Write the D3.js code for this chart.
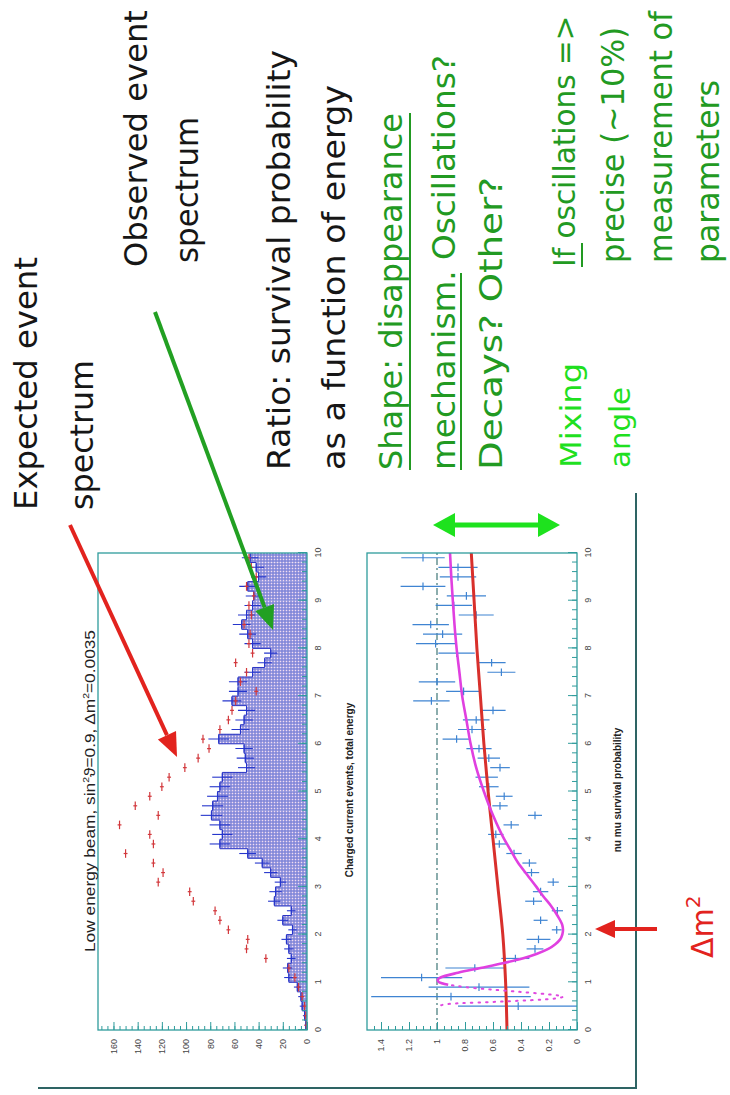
<!DOCTYPE html>
<html>
<head>
<meta charset="utf-8">
<script src="https://cdn.jsdelivr.net/npm/d3@7"></script>
<style>
  body { margin: 0; background: #fff; }
  svg { display: block; }
</style>
</head>
<body>
<svg id="slide"></svg>
<script>
// the slide is laid out landscape (1095 x 730) and turned a quarter turn, like the scan

// ---- data ----
const energyTicks = [0, 1, 2, 3, 4, 5, 6, 7, 8, 9, 10]
const energyLabels = ["0", "1", "2", "3", "4", "5", "6", "7", "8", "9", "10"]
const countTicks = [0, 20, 40, 60, 80, 100, 120, 140, 160]
const countLabels = ["0", "20", "40", "60", "80", "100", "120", "140", "160"]
const probTicks = [0, 0.2, 0.4, 0.6, 0.8, 1, 1.2, 1.4]
const probLabels = ["0", "0.2", "0.4", "0.6", "0.8", "1", "1.2", "1.4"]

const binWidth = 0.2
// observed events per 0.2 GeV bin (0 .. 10 GeV)
const observed = [1, 2, 4, 5, 8, 15, 16, 13, 15, 17,
                  12, 20, 13, 27, 26, 22, 30, 37, 49, 72,
                  70, 72, 79, 78, 74, 72, 70, 50, 51, 52,
                  73, 55, 52, 50, 62, 57, 57, 45, 35, 30,
                  45, 49, 54, 50, 45, 44, 49, 40, 42, 47]
// expected (no oscillation) per bin
const expected = [0.5, 1, 2, 4, 7, 10, 15, 34, 50, 49,
                  65, 72, 76, 94, 97, 123, 119, 127, 150, 127,
                  130, 155, 123, 142, 130, 120, 114, 101, 90, 81,
                  86, 72, 65, 62, 59, 42, 55, 50, 59, 45,
                  48, 47, 52, 46, 48, 44, 50, 42, 46, 48]

// ratio points (survival probability)
const ratioE = [0.5, 0.7, 0.9, 1.1, 1.3, 1.5, 1.7, 1.9, 2.1, 2.3, 2.5, 2.7, 2.9, 3.1, 3.3, 3.5,
                3.7, 3.9, 4.1, 4.3, 4.5, 4.7, 4.9, 5.1, 5.3, 5.5, 5.7, 5.9, 6.1, 6.3, 6.5, 6.7,
                6.9, 7.1, 7.3, 7.5, 7.7, 7.9, 8.1, 8.3, 8.5, 8.7, 8.9, 9.1, 9.3, 9.5, 9.7, 9.9]
const ratioP = [0.42, 0.9, 0.70, 1.11, 0.73, 0.44, 0.30, 0.275, 0.145, 0.26, 0.14, 0.31, 0.26, 0.17, 0.325, 0.34,
                0.45, 0.555, 0.58, 0.47, 0.30, 0.55, 0.52, 0.63, 0.645, 0.55, 0.63, 0.70, 0.86, 0.75, 0.72, 0.60,
                1.04, 0.81, 1.0, 0.54, 0.61, 0.86, 1.01, 0.96, 1.045, 0.72, 0.88, 0.79, 1.10, 0.85, 0.85, 1.10]
const ratioErr = [0.43, 0.57, 0.36, 0.29, 0.21, 0.1, 0.06, 0.085, 0.035, 0.05, 0.04, 0.06, 0.055, 0.04, 0.055, 0.05,
                  0.055, 0.05, 0.055, 0.055, 0.05, 0.055, 0.06, 0.07, 0.08, 0.07, 0.08, 0.09, 0.1, 0.1, 0.095, 0.09,
                  0.13, 0.125, 0.13, 0.1, 0.1, 0.13, 0.14, 0.14, 0.13, 0.125, 0.13, 0.14, 0.16, 0.13, 0.14, 0.155]

// red (flat-ish) curve
const flatE = [0, 1, 2, 3, 4, 5, 6, 7, 8, 9, 10]
const flatP = [0.50, 0.51, 0.53, 0.565, 0.60, 0.635, 0.665, 0.69, 0.715, 0.735, 0.755]

// magenta oscillation fit, solid part
const oscE = [0.95, 1.0, 1.05, 1.1, 1.2, 1.3, 1.4, 1.5, 1.6, 1.7, 1.8, 1.9, 2.0, 2.1, 2.2, 2.4, 2.6, 2.8,
              3.0, 3.25, 3.5, 3.75, 4.0, 4.5, 5.0, 5.5, 6.0, 6.5, 7.0, 7.5, 8.0, 8.5, 9.0, 9.5, 10]
const oscP = [0.92, 0.985, 0.995, 0.975, 0.85, 0.69, 0.53, 0.39, 0.285, 0.205, 0.155, 0.12, 0.105, 0.10, 0.105, 0.14, 0.185, 0.24,
              0.29, 0.355, 0.42, 0.47, 0.52, 0.60, 0.665, 0.72, 0.76, 0.79, 0.82, 0.84, 0.86, 0.875, 0.887, 0.898, 0.907]
// magenta dotted part (fast oscillation at low energy)
const fastE = [0.52, 0.55, 0.6, 0.65, 0.7, 0.75, 0.8, 0.85, 0.9, 0.95]
const fastP = [0.97, 0.90, 0.51, 0.19, 0.10, 0.21, 0.41, 0.62, 0.80, 0.92]

// ---- setup ----
const W = 730, H = 1095
const svg = d3.select("#slide").attr("width", W).attr("height", H)
const defs = svg.append("defs")

const hatch = defs.append("pattern")
    .attr("id", "hatch")
    .attr("patternUnits", "userSpaceOnUse")
    .attr("width", 3).attr("height", 3)
hatch.append("rect").attr("width", 3).attr("height", 3).attr("fill", "#7a82d8")
hatch.append("rect").attr("x", 0.7).attr("y", 0.7).attr("width", 1.6).attr("height", 1.6).attr("fill", "#f2dcf2")

const g = svg.append("g").attr("transform", `translate(0,${H}) rotate(-90)`)

const xE = d3.scaleLinear([0, 10], [65, 542])
const yN = d3.scaleLinear([0, 172.8], [307, 98])
const yP = d3.scaleLinear([0, 1.5], [577, 367])

const teal = "#2f9c9c"
const labelFont = "'Liberation Sans', Arial, sans-serif"
const slideFont = "'DejaVu Sans', sans-serif"

defs.append("clipPath").attr("id", "clip1")
  .append("rect").attr("x", xE(0)).attr("y", yN.range()[1]).attr("width", xE(10) - xE(0)).attr("height", yN.range()[0] - yN.range()[1])
defs.append("clipPath").attr("id", "clip2")
  .append("rect").attr("x", xE(0)).attr("y", yP.range()[1]).attr("width", xE(10) - xE(0)).attr("height", yP.range()[0] - yP.range()[1])

function tidy(ax) {
  ax.select(".domain").remove()
  ax.attr("font-family", labelFont).attr("font-size", 9)
  ax.selectAll(".tick line").attr("stroke", teal)
  ax.selectAll(".tick text").attr("fill", "#444")
}

function frame(yScale, majors, labels, step) {
  const [bottom, top] = yScale.range()
  const f = g.append("g")
  const lo = yScale.domain()[0], hi = yScale.domain()[1]
  f.append("g").attr("transform", `translate(0,${bottom})`)
      .call(d3.axisBottom(xE).tickValues(d3.range(0, 10.001, 0.2)).tickSize(-5).tickFormat(""))
      .call(tidy)
  f.append("g").attr("transform", `translate(0,${bottom})`)
      .call(d3.axisBottom(xE).tickValues(energyTicks).tickSize(-9).tickPadding(8).tickFormat((d, i) => energyLabels[i]))
      .call(tidy)
  f.append("g").attr("transform", `translate(${xE(0)},0)`)
      .call(d3.axisLeft(yScale).tickValues(d3.range(lo, hi, step)).tickSize(-4).tickFormat(""))
      .call(tidy)
  f.append("g").attr("transform", `translate(${xE(0)},0)`)
      .call(d3.axisLeft(yScale).tickValues(majors).tickSize(-8).tickPadding(9).tickFormat((d, i) => labels[i]))
      .call(tidy)
  f.append("rect")
      .attr("x", xE(0)).attr("y", top)
      .attr("width", xE(10) - xE(0)).attr("height", bottom - top)
      .attr("fill", "none").attr("stroke", teal).attr("stroke-width", 1.3)
}

// ---- top chart: event spectra ----
const hist = g.append("g").attr("clip-path", "url(#clip1)")
hist.selectAll("rect.bin")
  .data(observed)
  .join("rect")
    .attr("class", "bin")
    .attr("x", (d, i) => xE(i * binWidth))
    .attr("width", xE(binWidth) - xE(0) + 0.3)
    .attr("y", d => yN(d))
    .attr("height", d => yN(0) - yN(d))
    .attr("fill", "url(#hatch)")

const stepLine = d3.line().x(d => xE(d[0])).y(d => yN(d[1])).curve(d3.curveStepAfter)
hist.append("path")
    .attr("d", stepLine([[0, 0]].concat(observed.map((d, i) => [i * binWidth, d]), [[10, observed[observed.length - 1]]])))
    .attr("fill", "none")
    .attr("stroke", "#2a34c4")
    .attr("stroke-width", 1)

// observed error crosses
const obsErr = hist.append("g").attr("stroke", "#2636cc").attr("stroke-width", 1.1)
observed.forEach((n, i) => {
  const c = (i + 0.5) * binWidth, e = Math.sqrt(n)
  obsErr.append("line").attr("x1", xE(c)).attr("x2", xE(c)).attr("y1", yN(n - e)).attr("y2", yN(n + e))
  obsErr.append("line").attr("x1", xE(c - 0.08)).attr("x2", xE(c + 0.08)).attr("y1", yN(n)).attr("y2", yN(n))
})

// expected points
const expMarks = hist.append("g").attr("stroke", "#d2383c").attr("stroke-width", 1.2)
expected.forEach((n, i) => {
  const c = (i + 0.5) * binWidth
  expMarks.append("line").attr("x1", xE(c - 0.09)).attr("x2", xE(c + 0.09)).attr("y1", yN(n)).attr("y2", yN(n))
  expMarks.append("line").attr("x1", xE(c)).attr("x2", xE(c)).attr("y1", yN(n - 1.6)).attr("y2", yN(n + 1.6))
})

frame(yN, countTicks, countLabels, 5)

const title = g.append("text")
    .attr("x", 143).attr("y", 95)
    .attr("font-family", labelFont).attr("font-size", 15).attr("fill", "#222")
    .attr("textLength", 322).attr("lengthAdjust", "spacingAndGlyphs")
title.append("tspan").text("Low energy beam, sin")
title.append("tspan").attr("font-size", 9).attr("dy", -6).text("2")
title.append("tspan").attr("dy", 6).text("\u03d1=0.9, \u0394m")
title.append("tspan").attr("font-size", 9).attr("dy", -6).text("2")
title.append("tspan").attr("dy", 6).text("=0.0035")

g.append("text")
    .attr("x", 305).attr("y", 353).attr("text-anchor", "middle")
    .attr("font-family", labelFont).attr("font-size", 10).attr("font-weight", "bold").attr("fill", "#222")
    .text("Charged current events, total energy")

// ---- bottom chart: survival probability ----
const ratio = g.append("g").attr("clip-path", "url(#clip2)")

ratio.append("line")
    .attr("x1", xE(0)).attr("x2", xE(10)).attr("y1", yP(1)).attr("y2", yP(1))
    .attr("stroke", "#2c6a6a").attr("stroke-width", 1.1).attr("stroke-dasharray", "7,3,2,3")

const crosses = ratio.append("g").attr("stroke", "#3f84d2").attr("stroke-width", 1.2)
ratioE.forEach((e, i) => {
  const p = ratioP[i], s = ratioErr[i]
  crosses.append("line").attr("x1", xE(e)).attr("x2", xE(e)).attr("y1", yP(p - s)).attr("y2", yP(p + s))
  crosses.append("line").attr("x1", xE(e - 0.08)).attr("x2", xE(e + 0.08)).attr("y1", yP(p)).attr("y2", yP(p))
})

const curve = d3.line().x(d => xE(d[0])).y(d => yP(d[1])).curve(d3.curveMonotoneX)
ratio.append("path")
    .attr("d", curve(flatE.map((e, i) => [e, flatP[i]])))
    .attr("fill", "none").attr("stroke", "#d8302c").attr("stroke-width", 3)
ratio.append("path")
    .attr("d", curve(fastE.map((e, i) => [e, fastP[i]])))
    .attr("fill", "none").attr("stroke", "#e048e0").attr("stroke-width", 2)
    .attr("stroke-dasharray", "1.5,6").attr("stroke-linecap", "round")
ratio.append("path")
    .attr("d", curve(oscE.map((e, i) => [e, oscP[i]])))
    .attr("fill", "none").attr("stroke", "#e040e0").attr("stroke-width", 2.6)

frame(yP, probTicks, probLabels, 0.05)

g.append("text")
    .attr("x", 305).attr("y", 621).attr("text-anchor", "middle")
    .attr("font-family", labelFont).attr("font-size", 10).attr("font-weight", "bold").attr("fill", "#222")
    .text("nu mu survival probability")

// frame lines round the plots
g.append("path")
    .attr("d", "M7,38 L7,636 L602,636")
    .attr("fill", "none").attr("stroke", "#2e6464").attr("stroke-width", 2)

// ---- arrows ----
function arrow(x1, y1, x2, y2, color, width, len, half, both) {
  const a = g.append("g").attr("fill", color).attr("stroke", color)
  const dx = x2 - x1, dy = y2 - y1, L = Math.hypot(dx, dy)
  const ux = dx / L, uy = dy / L
  const sx = both ? x1 + ux * len : x1, sy = both ? y1 + uy * len : y1
  a.append("line").attr("x1", sx).attr("y1", sy).attr("x2", x2 - ux * len).attr("y2", y2 - uy * len)
      .attr("stroke-width", width)
  const head = (tx, ty, vx, vy) => {
    const bx = tx - vx * len, by = ty - vy * len
    a.append("path").attr("stroke", "none")
        .attr("d", `M${tx},${ty}L${bx - vy * half},${by + vx * half}L${bx + vy * half},${by - vx * half}Z`)
  }
  head(x2, y2, ux, uy)
  if (both) head(x1, y1, -ux, -uy)
}

arrow(570, 70, 338, 177, "#e2231e", 4, 24, 10, false)
arrow(783, 155, 465, 273, "#22a022", 4, 24, 10, false)
arrow(166, 657, 166, 595, "#e2231e", 4, 20, 9, false)
arrow(570, 433, 570, 560, "#1ee21e", 5, 22, 12, true)

// ---- slide text ----
const black = "#161616", green = "#229a22", bright = "#1fe01f"
const notes = [
  { t: "Expected event", u: 585, v: 37, w: 253, c: black },
  { t: "spectrum", u: 585, v: 93, w: 150, c: black },
  { t: "Observed event", u: 828, v: 147, w: 257, c: black },
  { t: "spectrum", u: 832, v: 198, w: 146, c: black },
  { t: "Ratio: survival probability", u: 625, v: 290, w: 420, c: black },
  { t: "as a function of energy", u: 625, v: 345, w: 385, c: black },
  { t: "Shape: disappearance", u: 625, v: 402, w: 357, c: green },
  { t: "mechanism. Oscillations?", u: 625, v: 455, w: 415, c: green },
  { t: "Decays? Other?", u: 625, v: 502, w: 293, c: green },
  { t: "precise (~10%)", u: 832, v: 624, w: 236, c: green },
  { t: "measurement of", u: 832, v: 672, w: 252, c: green },
  { t: "parameters", u: 832, v: 719, w: 183, c: green }
]
const slideText = g.append("g")
    .attr("font-family", slideFont).attr("font-size", 32)
slideText.selectAll("text")
  .data(notes)
  .join("text")
    .attr("x", d => d.u).attr("y", d => d.v)
    .attr("fill", d => d.c)
    .attr("textLength", d => d.w).attr("lengthAdjust", "spacingAndGlyphs")
    .text(d => d.t)

// this line runs up to the slide edge, so it is set a little smaller instead of stretched
slideText.append("text")
    .attr("x", 828).attr("y", 575)
    .attr("font-size", 29.5).attr("fill", green)
    .text("If oscillations =>")

// underlines
const under = [[625, 982, 410], [625, 822, 461], [828, 852, 582]]
g.append("g").attr("stroke", green).attr("stroke-width", 2)
  .selectAll("line").data(under).join("line")
    .attr("x1", d => d[0]).attr("x2", d => d[1]).attr("y1", d => d[2]).attr("y2", d => d[2])

g.append("g")
    .attr("font-family", slideFont).attr("font-size", 28).attr("fill", bright)
  .selectAll("text")
  .data([{ t: "Mixing", v: 581, w: 105 }, { t: "angle", v: 630, w: 81 }])
  .join("text")
    .attr("x", 627).attr("y", d => d.v)
    .attr("textLength", d => d.w).attr("lengthAdjust", "spacingAndGlyphs")
    .text(d => d.t)

const dm = g.append("text")
    .attr("x", 137).attr("y", 713)
    .attr("font-family", slideFont).attr("font-size", 30).attr("fill", "#e2231e")
dm.append("tspan").text("\u0394m")
dm.append("tspan").attr("font-size", 20).attr("dy", -13).text("2")
</script>
</body>
</html>
